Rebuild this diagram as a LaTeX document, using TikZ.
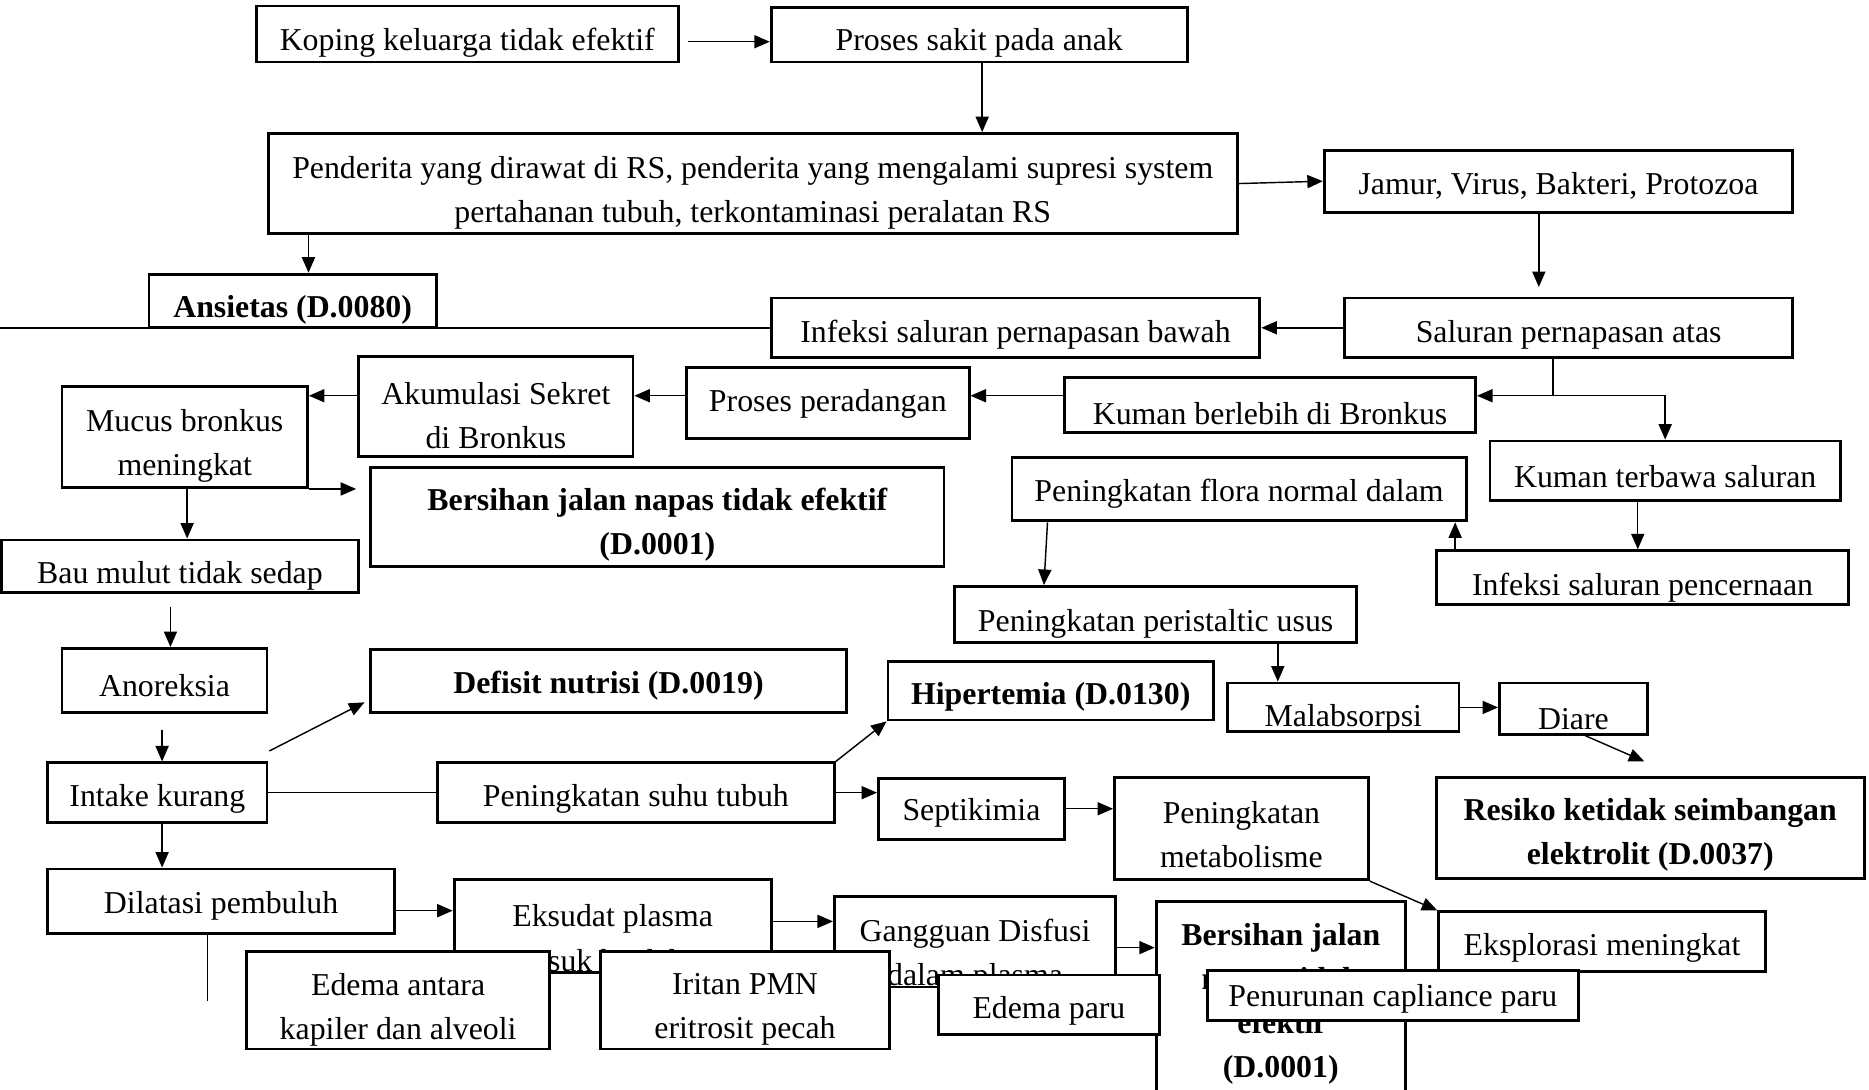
\documentclass[tikz,border=0pt]{standalone}
\usepackage{fontspec}
\setmainfont{Liberation Serif}
\usetikzlibrary{arrows.meta}
\newcommand\BoxAt[8][]{%
  \pgfmathsetmacro\bxc{(#3+#5)/2}%
  \pgfmathsetmacro\byc{(#4+#6)/2}%
  \pgfmathsetmacro\bxw{#5-#3}%
  \pgfmathsetmacro\bxh{#6-#4}%
  \node[box,minimum width=\bxw pt,minimum height=\bxh pt] (#2) at (\bxc,\byc) {};%
  \node[txt,#1] (#2-t) at (\bxc,{#7+3}) {#8};}
\tikzset{
  box/.style={draw, line width=2.4pt, fill=white, inner sep=0pt},
  txt/.style={align=center, inner sep=0pt, font=\fontsize{26.7}{37}\selectfont},
  bf/.style={font=\fontsize{26.7}{37}\selectfont\bfseries},
  conn/.style={line width=1.2pt},
  arr/.style={conn, -{Triangle[length=13pt,width=11pt]}}
}
\begin{document}
\begin{tikzpicture}[x=1pt,y=-1pt]
\useasboundingbox (0,0) rectangle (1568,914);
\fill[white] (0,0) rectangle (1568,914);
\clip (0,0) rectangle (1568,914);

\BoxAt{koping}{215}{5}{569}{52}{33}{Koping keluarga tidak efektif}
\BoxAt{proses}{647}{6}{996}{52}{33}{Proses sakit pada anak}
\BoxAt{penderita}{225}{112}{1038}{196}{158.5}{Penderita yang dirawat di RS, penderita yang mengalami supresi system\\pertahanan tubuh, terkontaminasi peralatan RS}
\BoxAt{jamur}{1111}{126}{1504}{178}{153}{Jamur, Virus, Bakteri, Protozoa}
\BoxAt[bf]{ansietas}{125}{230}{366}{275}{257}{Ansietas (D.0080)}
\BoxAt{bawah}{647}{250}{1057}{300}{278}{Infeksi saluran pernapasan bawah}
\BoxAt{atas}{1128}{250}{1504}{300}{278}{Saluran pernapasan atas}
\BoxAt{kuman}{893}{317}{1238}{363}{344}{Kuman berlebih di Bronkus}
\BoxAt{peradangan}{576}{308}{813}{368}{336}{Proses peradangan}
\BoxAt{akumulasi}{301}{299}{531}{383}{345.5}{Akumulasi Sekret\\di Bronkus}
\BoxAt{mucus}{52}{324}{258}{409}{371}{Mucus bronkus\\meningkat}
\BoxAt[bf]{bersihan1}{311}{392}{792}{475}{437.5}{Bersihan jalan napas tidak efektif\\(D.0001)}
\BoxAt{bau}{1}{453}{301}{497}{480}{Bau mulut tidak sedap}
\BoxAt{anoreksia}{52}{544}{224}{598}{572}{Anoreksia}
\BoxAt[bf]{defisit}{311}{545}{710}{598}{572}{Defisit nutrisi (D.0019)}
\BoxAt{intake}{40}{640}{224}{690}{667}{Intake kurang}
\BoxAt{suhu}{367}{640}{700}{690}{667}{Peningkatan suhu tubuh}
\BoxAt[bf]{hipertemia}{745}{555}{1018}{604}{582}{Hipertemia (D.0130)}
\BoxAt{septi}{737}{653}{893}{704}{679}{Septikimia}
\BoxAt{metab}{935}{652}{1148}{738}{697.5}{Peningkatan\\metabolisme}
\BoxAt{flora}{849}{384}{1230}{437}{411}{Peningkatan flora normal dalam}
\BoxAt{peristaltic}{801}{492}{1138}{539}{520}{Peningkatan peristaltic usus}
\BoxAt{malab}{1030}{573}{1224}{614}{600}{Malabsorpsi}
\BoxAt{diare}{1258}{573}{1382}{616}{600}{Diare}
\BoxAt[bf]{resiko}{1205}{652}{1564}{737}{697.5}{Resiko ketidak seimbangan\\elektrolit (D.0037)}
\BoxAt{terbawa}{1250}{370}{1544}{420}{397}{Kuman terbawa saluran}
\BoxAt{pencernaan}{1205}{462}{1551}{507}{490}{Infeksi saluran pencernaan}
\BoxAt{dilatasi}{40}{729}{331}{783}{757}{Dilatasi pembuluh}
\BoxAt{eksudat}{381}{738}{647}{816}{784}{Eksudat plasma\\masuk ke dalam}
\BoxAt{gangguan}{700}{752}{936}{828}{799}{Gangguan Disfusi\\dalam plasma}
\BoxAt{edemaantara}{207}{798}{461}{880}{844}{Edema antara\\kapiler dan alveoli}
\BoxAt{iritan}{504}{798}{746}{880}{844}{Iritan PMN\\eritrosit pecah}
\BoxAt[bf]{bersihan2}{970}{756}{1179}{930}{839}{Bersihan jalan\\napas tidak\\efektif\\(D.0001)}
\BoxAt{edemaparu}{787}{818}{973}{868}{845}{Edema paru}
\BoxAt{eksplorasi}{1207}{765}{1481}{815}{792}{Eksplorasi meningkat}
\BoxAt{penurunan}{1013}{814}{1324}{856}{835}{Penurunan capliance paru}

% connectors
\coordinate (c1) at ([xshift=7pt,yshift=-6.5pt]koping.east);
\draw[arr] (c1) -- (c1 -| proses.west);
\coordinate (c2) at ([xshift=2.5pt]proses.south);
\draw[arr] (c2) -- (c2 |- penderita.north);
\draw[arr] (penderita.east) -- (jamur.west);
\coordinate (c3) at ([xshift=-16.5pt]jamur.south);
\draw[arr, shorten >=8pt] (c3) -- (c3 |- atas.north);
\coordinate (c4) at ([xshift=35pt]penderita.south west);
\draw[arr] (c4) -- (c4 |- ansietas.north);
\coordinate (lend) at (0,277);
\draw[conn] (bawah.west) -- (lend |- bawah.west);
\draw[arr] (atas.west) -- (bawah.east);
\coordinate (split) at (1303,332);
\draw[conn] (split |- atas.south) -- (split);
\draw[arr] (split) -- (split -| kuman.east);
\draw[arr] (split) -| (terbawa.north);
\coordinate (c5) at ([yshift=8pt]kuman.west);
\draw[arr] (c5) -- (c5 -| peradangan.east);
\coordinate (c6) at ([yshift=6pt]peradangan.west);
\draw[arr] (c6) -- (c6 -| akumulasi.east);
\coordinate (c7) at ([yshift=9pt]akumulasi.west);
\draw[arr] (c7) -- (c7 -| mucus.east);
\draw[arr, shorten >=11pt] (mucus.south east) -- (mucus.south east -| bersihan1.west);
\coordinate (c8) at ([xshift=2pt]mucus.south);
\draw[arr] (c8) -- (c8 |- bau.north);
\coordinate (c9) at ([xshift=5pt]anoreksia.north);
\draw[arr, shorten <=11pt] (c9 |- bau.south) -- (c9);
\coordinate (c10) at ([xshift=-2pt]anoreksia.south);
\draw[arr, shorten <=13pt] (c10) -- (c10 |- intake.north);
\coordinate (dstart) at (226,630);
\draw[arr] (dstart) -- ([xshift=-4pt,yshift=10pt]defisit.south west);
\draw[conn] (intake.east) -- (suhu.west);
\draw[arr] (suhu.north east) -- (hipertemia.south west);
\draw[arr] (suhu.east) -- (suhu.east -| septi.west);
\draw[arr] (septi.east) -- (septi.east -| metab.west);
\draw[arr] (metab.south east) -- (eksplorasi.north west);
\coordinate (c11) at ([xshift=31pt]flora.south west);
\coordinate (c12) at ([xshift=76pt]peristaltic.north west);
\draw[arr] (c11) -- (c12);
\coordinate (c13) at ([xshift=-55pt]malab.north);
\draw[arr] (c13 |- peristaltic.south) -- (c13);
\draw[arr] (malab.east) -- (malab.east -| diare.west);
\draw[arr] ([xshift=10pt]diare.south) -- ([xshift=-5pt,yshift=12pt]resiko.north);
\coordinate (c14) at ([xshift=-23pt]terbawa.south);
\draw[arr] (c14) -- (c14 |- pencernaan.north);
\coordinate (c15) at ([xshift=17pt]pencernaan.north west);
\draw[arr] (c15) -- (c15 |- flora.south);
\coordinate (c16) at ([xshift=4pt]intake.south);
\draw[arr] (c16) -- (c16 |- dilatasi.north);
\coordinate (dend) at (174,840);
\draw[conn] (dend |- dilatasi.south) -- (dend);
\coordinate (c17) at ([yshift=-8pt]dilatasi.east);
\draw[arr] (c17) -- (c17 -| eksudat.west);
\coordinate (c18) at ([yshift=4pt]eksudat.east);
\draw[arr] (c18) -- (c18 -| gangguan.west);
\coordinate (c19) at ([yshift=-5pt]gangguan.east);
\draw[arr] (c19) -- (c19 -| bersihan2.west);
\end{tikzpicture}
\end{document}
